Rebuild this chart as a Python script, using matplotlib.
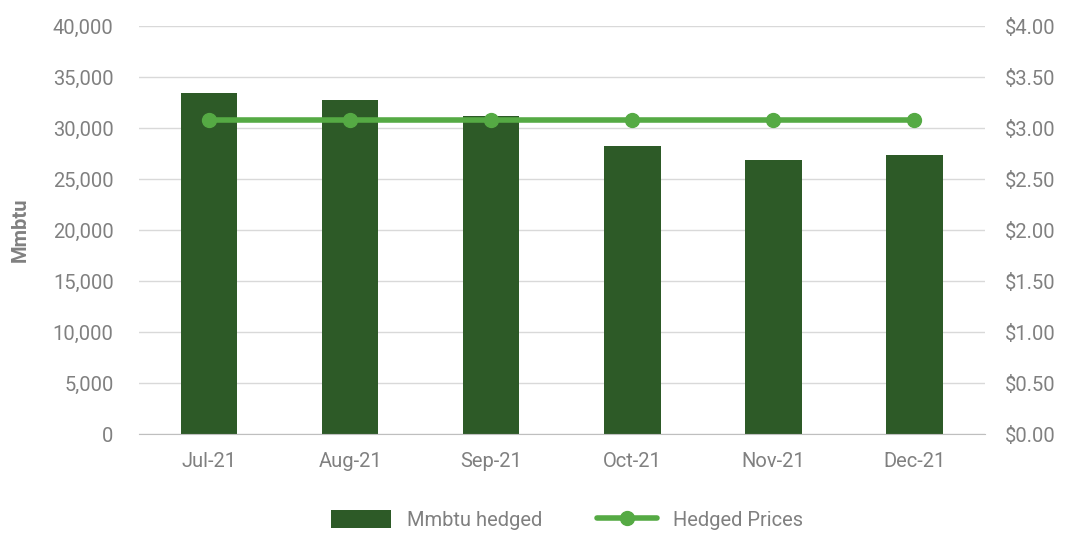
import numpy as np
import matplotlib.pyplot as plt
from matplotlib.ticker import FuncFormatter

months = ["Jul-21", "Aug-21", "Sep-21", "Oct-21", "Nov-21", "Dec-21"]
mmbtu_hedged = [33400, 32750, 31200, 28250, 26850, 27350]
hedged_prices = [3.08, 3.08, 3.08, 3.08, 3.08, 3.08]

bar_color = "#2D5A27"
line_color = "#55AA44"
text_color = "#808080"
grid_color = "#D9D9D9"

plt.rcParams['font.family'] = ['Roboto', 'DejaVu Sans']

fig = plt.figure(figsize=(10.66, 5.34), dpi=100)
ax = fig.add_axes([0.130, 0.187, 0.794, 0.764])
ax2 = ax.twinx()

x = np.arange(len(months))
bars = ax.bar(x, mmbtu_hedged, width=0.40, color=bar_color, label="Mmbtu hedged", zorder=2)
line, = ax2.plot(x, hedged_prices, color=line_color, lw=4, marker="o", ms=10,
                 label="Hedged Prices", zorder=3, solid_capstyle="round")

ax.set_ylim(0, 40000)
ax.set_yticks(np.arange(0, 40001, 5000))
ax.yaxis.set_major_formatter(FuncFormatter(lambda v, p: f"{int(v):,}"))
ax2.set_ylim(0, 4)
ax2.set_yticks(np.arange(0, 4.01, 0.5))
ax2.yaxis.set_major_formatter(FuncFormatter(lambda v, p: f"${v:.2f}"))
ax.set_xlim(-0.5, len(months) - 0.5)
ax.set_xticks(x)
ax.set_xticklabels(months)

ax.grid(axis="y", color=grid_color, lw=1, zorder=0)
ax.set_axisbelow(True)
for a in (ax, ax2):
    for s in a.spines.values():
        s.set_visible(False)
    a.tick_params(length=0, colors=text_color, labelsize=14.5)
ax.spines["bottom"].set_visible(True)
ax.spines["bottom"].set_color("#BFBFBF")
ax.tick_params(axis="x", pad=13)
ax.tick_params(axis="y", pad=18)
ax2.tick_params(axis="y", pad=14)

ax.set_ylabel("Mmbtu", color=text_color, fontsize=14.5, fontweight="bold")
ax.yaxis.set_label_coords(-0.128, 0.5)

fig.legend([bars, line], ["Mmbtu hedged", "Hedged Prices"], loc="center",
           bbox_to_anchor=(0.532, 0.026), ncol=2, frameon=False, fontsize=14.5,
           labelcolor=text_color, handlelength=3.0, handleheight=1.0, columnspacing=2.7,
           handletextpad=0.8)

fig.savefig("out.png", dpi=100)
